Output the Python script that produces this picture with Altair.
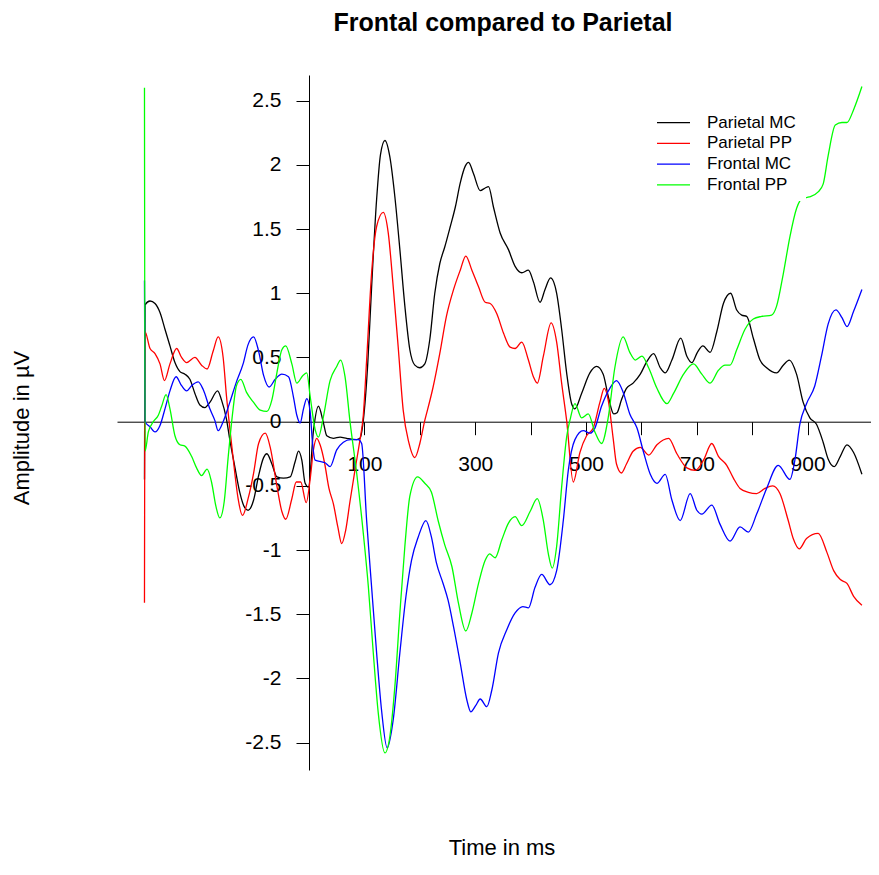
import altair as alt
import pandas as pd

# ---- data (time in ms, amplitude in µV) ----
pmc_t = [-297, -296, -287, -278, -269, -260, -251, -242, -233, -224, -215, -206, -197, -188, -179, -165, -158, -149, -143, -134,
         -125, -116, -110, -100, -91, -82, -76, -67, -58, -46, -34, -25, -19, -13, -7, -1, 8, 17, 26, 32,
         44, 56, 68, 86, 92, 98, 106, 113, 122, 129, 137, 146, 155, 164, 173, 182, 191, 200, 209, 218,
         227, 236, 245, 255, 264, 273, 282, 288, 297, 309, 318, 324, 333, 345, 360, 372, 384, 396, 405, 417,
         426, 436, 447, 456, 465, 474, 480, 492, 507, 519, 531, 540, 550, 556, 564, 573, 585, 598, 610, 622,
         634, 643, 655, 671, 682, 691, 701, 711, 724, 736, 748, 761, 772, 781, 790, 802, 814, 826, 844, 856,
         867, 880, 892, 904, 916, 928, 937, 948, 959, 971, 983, 998]
pmc_v = [-0.45, 0.91, 0.94, 0.92, 0.85, 0.72, 0.59, 0.46, 0.39, 0.37, 0.33, 0.22, 0.13, 0.11, 0.15, 0.24, 0.17, 0.02, -0.14, -0.35,
         -0.55, -0.67, -0.69, -0.61, -0.42, -0.28, -0.25, -0.33, -0.43, -0.44, -0.43, -0.31, -0.23, -0.30, -0.48, -0.51, -0.07, 0.12, -0.01, -0.11,
         -0.13, -0.12, -0.13, -0.14, -0.13, 0.01, 0.45, 1.05, 1.73, 2.08, 2.19, 2.06, 1.75, 1.34, 0.90, 0.56, 0.44, 0.42, 0.45, 0.64,
         1.00, 1.23, 1.36, 1.52, 1.67, 1.86, 1.99, 2.02, 1.93, 1.80, 1.82, 1.83, 1.67, 1.47, 1.34, 1.21, 1.16, 1.18, 1.09, 0.93,
         1.03, 1.12, 1.00, 0.72, 0.38, 0.14, 0.10, 0.22, 0.38, 0.43, 0.37, 0.20, 0.06, 0.07, 0.17, 0.26, 0.30, 0.37, 0.47, 0.53,
         0.42, 0.38, 0.48, 0.65, 0.51, 0.46, 0.54, 0.59, 0.54, 0.70, 0.92, 1.00, 0.87, 0.83, 0.82, 0.65, 0.48, 0.42, 0.38, 0.44,
         0.48, 0.37, 0.15, 0.03, -0.02, -0.16, -0.29, -0.35, -0.27, -0.18, -0.24, -0.41]

ppp_t = [-297, -296, -287, -278, -269, -261, -251, -239, -230, -221, -206, -194, -184, -173, -164, -155, -149, -143, -134, -128,
         -120, -110, -100, -91, -79, -70, -58, -49, -42, -31, -23, -15, -5, 2, 8, 14, 20, 28, 36, 44,
         52, 59, 66, 74, 84, 92, 98, 104, 113, 122, 134, 143, 152, 161, 170, 180, 191, 200, 209, 212,
         224, 236, 248, 261, 273, 283, 294, 306, 318, 327, 339, 351, 363, 372, 384, 396, 405, 412, 423, 437,
         447, 456, 465, 477, 489, 501, 513, 525, 533, 540, 549, 555, 564, 573, 585, 598, 613, 628, 649, 664,
         682, 697, 712, 727, 739, 754, 766, 778, 793, 808, 823, 837, 850, 865, 874, 885, 898, 919, 935, 947,
         959, 971, 983, 998]
ppp_v = [-1.41, 0.70, 0.57, 0.53, 0.45, 0.32, 0.45, 0.57, 0.50, 0.46, 0.50, 0.44, 0.41, 0.55, 0.66, 0.50, 0.20, -0.05, -0.40, -0.60,
         -0.73, -0.60, -0.40, -0.17, -0.09, -0.20, -0.50, -0.70, -0.76, -0.60, -0.47, -0.47, -0.63, -0.45, -0.22, -0.13, -0.18, -0.32, -0.52, -0.64,
         -0.82, -0.95, -0.85, -0.62, -0.35, -0.14, 0.05, 0.48, 1.16, 1.52, 1.63, 1.47, 1.05, 0.58, 0.09, -0.16, -0.28, -0.17, 0.01, 0.06,
         0.27, 0.53, 0.82, 1.03, 1.18, 1.29, 1.18, 1.05, 0.93, 0.92, 0.84, 0.69, 0.58, 0.57, 0.62, 0.48, 0.35, 0.30, 0.51, 0.77,
         0.62, 0.30, 0.01, -0.47, -0.24, -0.11, -0.05, 0.15, 0.26, 0.17, -0.13, -0.33, -0.40, -0.33, -0.23, -0.20, -0.26, -0.18, -0.13, -0.25,
         -0.36, -0.38, -0.30, -0.17, -0.27, -0.34, -0.44, -0.52, -0.55, -0.56, -0.52, -0.50, -0.56, -0.77, -0.91, -0.99, -0.91, -0.87, -1.02, -1.16,
         -1.23, -1.26, -1.36, -1.43]

fmc_t = [-297, -296, -287, -278, -269, -260, -251, -240, -230, -221, -212, -200, -191, -179, -170, -164, -155, -143, -131, -119,
         -110, -100, -91, -82, -72, -61, -49, -37, -28, -22, -16, -10, -4, 2, 6, 11, 20, 29, 38, 50,
         62, 75, 89, 95, 104, 113, 122, 131, 141, 152, 164, 175, 185, 197, 211, 221, 230, 242, 251, 261,
         273, 285, 292, 301, 309, 321, 330, 342, 357, 372, 386, 396, 408, 420, 435, 447, 459, 468, 480, 495,
         507, 516, 528, 543, 555, 567, 579, 592, 604, 616, 628, 643, 655, 670, 688, 700, 709, 727, 742, 760,
         778, 793, 808, 826, 847, 868, 877, 886, 898, 913, 925, 937, 951, 962, 971, 983, 998]
fmc_v = [1.10, 0.00, -0.04, -0.08, -0.03, 0.10, 0.24, 0.35, 0.28, 0.24, 0.28, 0.31, 0.25, 0.10, 0.01, -0.07, 0.00, 0.15, 0.31, 0.45,
         0.60, 0.66, 0.55, 0.36, 0.27, 0.33, 0.37, 0.35, 0.19, 0.05, -0.01, 0.10, 0.18, 0.08, -0.15, -0.30, -0.31, -0.32, -0.35, -0.22,
         -0.16, -0.14, -0.14, -0.17, -0.77, -1.29, -1.80, -2.25, -2.54, -2.32, -1.80, -1.36, -1.08, -0.90, -0.77, -0.90, -1.10, -1.26, -1.39, -1.60,
         -1.88, -2.17, -2.26, -2.21, -2.16, -2.22, -2.09, -1.80, -1.62, -1.49, -1.44, -1.45, -1.29, -1.19, -1.27, -1.16, -0.77, -0.38, -0.14, -0.07,
         -0.09, -0.05, 0.12, 0.26, 0.32, 0.23, 0.06, -0.05, -0.24, -0.41, -0.48, -0.41, -0.61, -0.77, -0.56, -0.69, -0.72, -0.65, -0.80, -0.93,
         -0.82, -0.86, -0.72, -0.52, -0.34, -0.45, -0.30, -0.02, 0.14, 0.28, 0.51, 0.76, 0.87, 0.81, 0.74, 0.86, 1.03]

fpp_t = [-297, -296, -290, -281, -272, -266, -258, -251, -242, -233, -224, -212, -203, -194, -184, -176, -168, -161, -153, -146,
         -137, -131, -123, -113, -100, -88, -76, -67, -58, -49, -42, -31, -22, -11, -4, 2, 11, 17, 26, 38,
         50, 57, 65, 74, 86, 98, 107, 116, 125, 137, 146, 155, 164, 173, 182, 196, 209, 221, 233, 245,
         258, 270, 283, 294, 306, 318, 326, 336, 348, 360, 372, 384, 399, 412, 423, 432, 439, 447, 456, 465,
         472, 480, 492, 504, 516, 528, 540, 552, 567, 579, 589, 601, 613, 628, 646, 658, 676, 694, 709, 724,
         739, 751, 760, 772, 787, 802, 817, 835, 844, 856, 868, 880, 886, 892, 903, 919, 928, 937, 950, 962,
         971, 983, 998]
fpp_v = [2.60, -0.23, -0.08, 0.00, 0.05, 0.12, 0.21, 0.10, -0.11, -0.18, -0.19, -0.27, -0.36, -0.42, -0.37, -0.47, -0.66, -0.75, -0.62, -0.28,
         0.10, 0.28, 0.33, 0.23, 0.15, 0.09, 0.08, 0.17, 0.38, 0.56, 0.59, 0.45, 0.30, 0.36, 0.38, 0.20, -0.06, -0.12, 0.04, 0.32,
         0.43, 0.48, 0.35, 0.00, -0.40, -0.87, -1.28, -1.80, -2.27, -2.58, -2.45, -2.06, -1.49, -0.97, -0.58, -0.43, -0.48, -0.55, -0.77, -0.96,
         -1.13, -1.42, -1.63, -1.49, -1.26, -1.08, -1.03, -1.06, -0.92, -0.79, -0.74, -0.81, -0.70, -0.60, -0.77, -1.03, -1.14, -0.97, -0.51, -0.12,
         0.03, 0.14, 0.03, 0.06, -0.08, -0.17, 0.03, 0.42, 0.66, 0.54, 0.48, 0.51, 0.42, 0.26, 0.14, 0.22, 0.37, 0.45, 0.37, 0.30,
         0.40, 0.44, 0.44, 0.56, 0.72, 0.80, 0.82, 0.83, 0.90, 1.15, 1.44, 1.66, 1.72, 1.74, 1.75, 1.79, 1.85, 2.07, 2.31, 2.33,
         2.33, 2.43, 2.61]

names = ["Parietal MC", "Parietal PP", "Frontal MC", "Frontal PP"]
colors = ["#000000", "#ff0000", "#0000ff", "#00ff00"]
series = [(pmc_t, pmc_v), (ppp_t, ppp_v), (fmc_t, fmc_v), (fpp_t, fpp_v)]

x_ticks = [100, 200, 300, 400, 500, 600, 700, 800, 900]
y_ticks = [-2.5, -2, -1.5, -1, -0.5, 0, 0.5, 1, 1.5, 2, 2.5]

# ---- layout ----
FONT = "Liberation Sans"
W, H = 754, 695
xs = alt.Scale(domain=[-346.6, 1014.4], nice=False, zero=False)
ys = alt.Scale(domain=[-2.713, 2.700], nice=False, zero=False)

x_axis = alt.Axis(values=x_ticks, labelExpr="datum.value % 200 == 100 ? '' + datum.value : ''",
                  orient="bottom", offset=-348.3, tickSize=13, tickColor="black", tickWidth=1,
                  domainColor="black", domainWidth=1, labelPadding=19, labelFont=FONT, labelFontSize=21,
                  labelColor="black", grid=False, title=None, labelOverlap=False, labelFlush=False, labelBound=False)
y_axis = alt.Axis(values=y_ticks, labelExpr="'' + datum.value",
                  orient="left", offset=-192, tickSize=13, tickColor="black", tickWidth=1,
                  domainColor="black", domainWidth=1, labelPadding=15, labelFont=FONT, labelFontSize=21,
                  labelColor="black", grid=False, title=None, labelOverlap=False, labelFlush=False, labelBound=False)

layers = []
for (t, v), name, c in zip(series, names, colors):
    df = pd.DataFrame({"t": t, "v": v, "series": name})
    layers.append(
        alt.Chart(df).mark_line(color=c, strokeWidth=1.3, interpolate="monotone").encode(
            x=alt.X("t:Q", scale=xs, axis=x_axis),
            y=alt.Y("v:Q", scale=ys, axis=y_axis),
        )
    )

one = pd.DataFrame({"a": [0]})
# legend background (white box)
layers.append(alt.Chart(one).mark_rect(color="white").encode(
    x=alt.value(528), x2=alt.value(689), y=alt.value(22), y2=alt.value(126)))

for i, (name, c) in enumerate(zip(names, colors)):
    yy = 47.7 + 20.7 * i
    layers.append(alt.Chart(one).mark_rule(color=c, strokeWidth=1.3).encode(
        x=alt.value(540), x2=alt.value(573), y=alt.value(yy)))
    layers.append(alt.Chart(pd.DataFrame({"s": [name]})).mark_text(
        font=FONT, fontSize=17, align="left", baseline="middle", color="black").encode(
        text="s:N", x=alt.value(590), y=alt.value(yy)))

title_df = pd.DataFrame({"s": ["Frontal compared to Parietal"]})
layers.append(alt.Chart(title_df).mark_text(
    font=FONT, fontSize=25, fontWeight="bold", align="center", baseline="alphabetic", color="black").encode(
    text="s:N", x=alt.value(386), y=alt.value(-44)))

xt_df = pd.DataFrame({"s": ["Time in ms"]})
layers.append(alt.Chart(xt_df).mark_text(
    font=FONT, fontSize=22, align="center", baseline="alphabetic", color="black").encode(
    text="s:N", x=alt.value(385), y=alt.value(780)))

yt_df = pd.DataFrame({"s": ["Amplitude in µV"]})
layers.append(alt.Chart(yt_df).mark_text(
    font=FONT, fontSize=22, align="center", baseline="alphabetic", angle=270, color="black").encode(
    text="s:N", x=alt.value(-88), y=alt.value(353)))

chart = alt.layer(*layers).properties(
    width=W, height=H,
    autosize=alt.AutoSizeParams(type="none"),
    padding={"left": 109, "top": 67, "right": 0, "bottom": 92},
).configure_view(stroke=None)

chart.save("out.html", embed_options={"renderer": "svg", "actions": False})
